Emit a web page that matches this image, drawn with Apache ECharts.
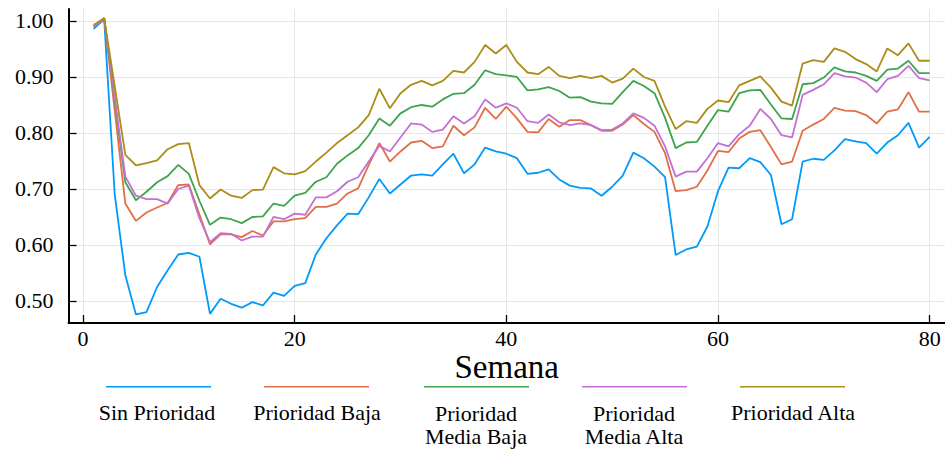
<!DOCTYPE html>
<html>
<head>
<meta charset="utf-8">
<script src="https://cdn.jsdelivr.net/npm/echarts@6/dist/echarts.min.js"></script>
<style>html,body{margin:0;padding:0;background:#fff;}#c{width:945px;height:449px;}</style>
</head>
<body>
<div id="c"></div>
<script>
const weeks = [1,2,3,4,5,6,7,8,9,10,11,12,13,14,15,16,17,18,19,20,21,22,23,24,25,26,27,28,29,30,31,32,33,34,35,36,37,38,39,40,41,42,43,44,45,46,47,48,49,50,51,52,53,54,55,56,57,58,59,60,61,62,63,64,65,66,67,68,69,70,71,72,73,74,75,76,77,78,79,80];

const sinPrioridad = [0.986,1.003,0.690,0.546,0.476,0.480,0.525,0.555,0.583,0.586,
0.579,0.477,0.504,0.495,0.488,0.498,0.492,0.515,0.509,0.527,
0.532,0.583,0.612,0.635,0.656,0.655,0.685,0.718,0.692,0.708,
0.724,0.726,0.724,0.744,0.763,0.728,0.744,0.774,0.767,0.763,
0.755,0.727,0.729,0.735,0.717,0.706,0.702,0.701,0.688,0.704,
0.724,0.765,0.755,0.740,0.721,0.582,0.592,0.597,0.633,0.696,
0.738,0.737,0.755,0.748,0.725,0.637,0.646,0.749,0.754,0.752,
0.769,0.789,0.785,0.782,0.763,0.783,0.796,0.818,0.774,0.793];

const prioridadBaja = [0.990,1.005,0.840,0.674,0.643,0.658,0.667,0.675,0.707,0.708,
0.655,0.601,0.619,0.619,0.614,0.625,0.617,0.642,0.642,0.646,
0.648,0.668,0.668,0.674,0.692,0.701,0.743,0.782,0.749,0.767,
0.783,0.786,0.773,0.776,0.813,0.796,0.810,0.845,0.825,0.847,
0.826,0.802,0.801,0.825,0.811,0.823,0.823,0.814,0.804,0.804,
0.815,0.832,0.816,0.802,0.764,0.696,0.698,0.704,0.733,0.768,
0.766,0.790,0.802,0.805,0.775,0.744,0.749,0.804,0.815,0.825,
0.845,0.840,0.839,0.832,0.817,0.838,0.842,0.873,0.838,0.838];

const prioridadMediaBaja = [0.991,1.005,0.858,0.712,0.680,0.695,0.712,0.723,0.743,0.727,
0.679,0.636,0.649,0.646,0.639,0.650,0.651,0.674,0.670,0.688,
0.693,0.713,0.721,0.745,0.760,0.773,0.796,0.826,0.813,0.835,
0.846,0.850,0.847,0.860,0.870,0.871,0.886,0.912,0.905,0.903,
0.900,0.876,0.878,0.882,0.875,0.863,0.864,0.856,0.853,0.852,
0.873,0.893,0.884,0.871,0.827,0.773,0.783,0.784,0.813,0.841,
0.838,0.871,0.876,0.877,0.851,0.826,0.825,0.887,0.889,0.899,
0.917,0.910,0.908,0.902,0.893,0.913,0.915,0.929,0.907,0.907];

const prioridadMediaAlta = [0.990,1.005,0.863,0.722,0.688,0.682,0.682,0.674,0.700,0.706,
0.648,0.605,0.621,0.620,0.608,0.615,0.615,0.650,0.646,0.656,
0.654,0.685,0.685,0.696,0.713,0.721,0.749,0.777,0.767,0.792,
0.817,0.815,0.802,0.806,0.830,0.817,0.830,0.860,0.845,0.853,
0.845,0.821,0.818,0.833,0.819,0.814,0.817,0.814,0.805,0.806,
0.817,0.835,0.827,0.813,0.776,0.722,0.731,0.731,0.755,0.782,
0.776,0.798,0.813,0.843,0.825,0.796,0.792,0.868,0.877,0.887,
0.907,0.901,0.899,0.890,0.873,0.896,0.902,0.920,0.898,0.894];

const prioridadAlta = [0.993,1.005,0.883,0.761,0.742,0.746,0.751,0.771,0.780,0.782,
0.707,0.683,0.699,0.688,0.684,0.698,0.699,0.739,0.728,0.726,
0.732,0.749,0.765,0.782,0.796,0.810,0.832,0.879,0.844,0.871,
0.886,0.893,0.885,0.893,0.911,0.908,0.927,0.957,0.942,0.957,
0.927,0.908,0.905,0.918,0.902,0.898,0.902,0.898,0.902,0.890,
0.897,0.915,0.900,0.893,0.847,0.807,0.821,0.818,0.843,0.858,
0.855,0.885,0.893,0.901,0.881,0.856,0.849,0.924,0.930,0.927,
0.951,0.945,0.932,0.923,0.910,0.951,0.939,0.960,0.929,0.929];

const seriesNames = ['Sin Prioridad','Prioridad Baja','Prioridad Media Baja','Prioridad Media Alta','Prioridad Alta'];
const legendLabels = ['Sin Prioridad','Prioridad Baja','Prioridad\nMedia Baja','Prioridad\nMedia Alta','Prioridad Alta'];
const colors = ['#009AFA','#E36F47','#3EA44E','#C371D2','#AC8D18'];
const xTicks = [0,20,40,60,80];
const yTicks = [0.5,0.6,0.7,0.8,0.9,1.0];
const allValues = [sinPrioridad, prioridadBaja, prioridadMediaBaja, prioridadMediaAlta, prioridadAlta];

const FONT = '"Liberation Serif","DejaVu Serif",serif';

const series = allValues.map((vals, i) => ({
  name: seriesNames[i],
  type: 'line',
  data: weeks.map((w, j) => [w, vals[j]]),
  showSymbol: false,
  symbol: 'none',
  lineStyle: { width: 1.8, color: colors[i] },
  itemStyle: { color: colors[i] },
  z: 2 + i
}));

const legendLeft = [106, 264, 424, 582, 740];
const legendCenters = [157, 317, 476, 634, 793];
const legends = seriesNames.map((n, i) => ({
  data: [{ name: n, icon: 'rect' }],
  left: legendLeft[i],
  top: 386,
  padding: 0,
  itemWidth: 105,
  itemHeight: 1.5,
  itemGap: 0,
  selectedMode: false,
  formatter: () => '',
  textStyle: { fontSize: 1 }
}));

const graphics = legendLabels.map((t, i) => ({
  type: 'text',
  x: legendCenters[i],
  y: t.indexOf('\n') >= 0 ? 425 : 412,
  style: {
    text: t,
    fill: '#000',
    font: '22px ' + FONT,
    align: 'center',
    verticalAlign: 'middle',
    lineHeight: 23
  }
}));

const option = {
  animation: false,
  backgroundColor: '#fff',
  grid: { left: 68.5, right: 0, top: 9, bottom: 126, containLabel: false },
  xAxis: {
    type: 'value',
    min: -1.37,
    max: 81.45,
    name: 'Semana',
    nameLocation: 'middle',
    nameGap: 29,
    nameMoveOverlap: false,
    nameTextStyle: { fontFamily: FONT, fontSize: 33, lineHeight: 30, color: '#000' },
    axisLine: { show: true, onZero: false, lineStyle: { color: '#000', width: 2 } },
    axisTick: { show: true, inside: true, length: 8, customValues: xTicks, lineStyle: { color: '#000', width: 1.3 } },
    axisLabel: { customValues: xTicks, margin: 6, lineHeight: 18, fontFamily: FONT, fontSize: 22, color: '#000' },
    splitLine: { show: true, lineStyle: { color: '#e6e6e6', width: 1 } }
  },
  yAxis: {
    type: 'value',
    min: 0.4607,
    max: 1.0214,
    axisLine: { show: true, onZero: false, lineStyle: { color: '#000', width: 2 } },
    axisTick: { show: true, inside: true, length: 8, customValues: yTicks, lineStyle: { color: '#000', width: 1.3 } },
    axisLabel: { customValues: yTicks, margin: 15, fontFamily: FONT, fontSize: 22, color: '#000', formatter: v => v.toFixed(2) },
    splitLine: { show: true, lineStyle: { color: '#e6e6e6', width: 1 } }
  },
  legend: legends,
  graphic: graphics,
  series: series
};

const chart = echarts.init(document.getElementById('c'), null, { renderer: 'svg', width: 945, height: 449 });
chart.setOption(option);
</script>
</body>
</html>
